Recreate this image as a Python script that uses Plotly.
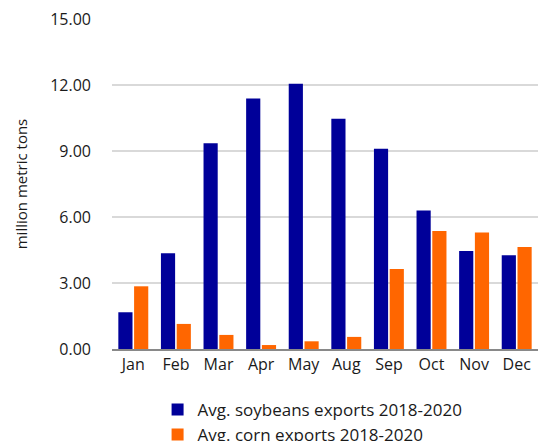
import plotly.graph_objects as go

months = ["Jan", "Feb", "Mar", "Apr", "May", "Aug", "Sep", "Oct", "Nov", "Dec"]
soybeans = [1.67, 4.35, 9.35, 11.39, 12.06, 10.47, 9.10, 6.30, 4.45, 4.26]
corn = [2.85, 1.14, 0.64, 0.18, 0.35, 0.55, 3.64, 5.36, 5.29, 4.64]
y_ticks = [0, 3, 6, 9, 12, 15]

fig = go.Figure()
fig.add_trace(go.Bar(x=months, y=soybeans, name="Avg. soybeans exports 2018-2020",
                     marker=dict(color="#000099", line=dict(width=0))))
fig.add_trace(go.Bar(x=months, y=corn, name="Avg. corn exports 2018-2020",
                     marker=dict(color="#FF6600", line=dict(width=0))))

fig.update_layout(
    width=545, height=441,
    margin=dict(l=112, r=7, t=19, b=92, autoexpand=False),
    paper_bgcolor="white", plot_bgcolor="white",
    font=dict(family="Open Sans, Noto Sans, sans-serif", size=16, color="#1a1a1a"),
    barmode="group", bargap=0.26, bargroupgap=0.1,
    showlegend=True,
    legend=dict(orientation="v", x=0.107, xanchor="left", y=-0.13, yanchor="top",
                font=dict(size=17, color="#1a1a1a"), tracegroupgap=0,
                bgcolor="rgba(0,0,0,0)"),
    xaxis=dict(showgrid=False, showline=True, linecolor="#898989", linewidth=2,
               ticks="", tickfont=dict(size=16), automargin=False),
    yaxis=dict(range=[0, 15], tickvals=y_ticks, ticktext=[f"{v:.2f}" for v in y_ticks],
               showgrid=True, gridcolor="#d9d9d9", gridwidth=1.5, zeroline=False,
               showline=False, ticks="", ticklabelstandoff=20, automargin=False,
               tickfont=dict(size=16),
               title=dict(text="million metric tons", font=dict(size=15), standoff=18)),
)
fig.write_html("out.html")
